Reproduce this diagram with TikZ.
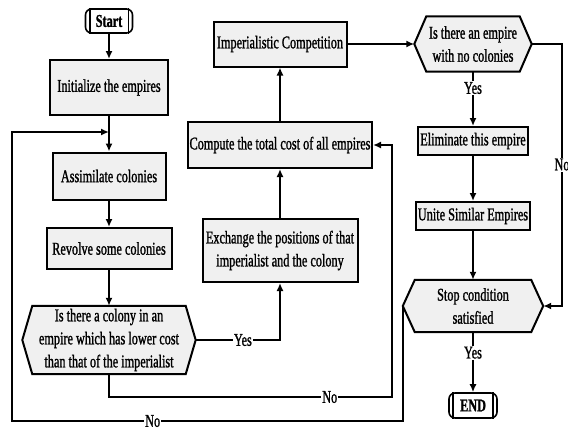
\documentclass[tikz,border=0pt]{standalone}
\usepackage{fontspec}
\setmainfont{Liberation Serif}[FakeStretch=0.68,FakeBold=1.2]
\usetikzlibrary{arrows.meta,calc,backgrounds}
\newcommand\hexpath[2]{\path[hexshape] (#1.west) -- ($(#1.north west)+(#2,0)$) -- ($(#1.north east)+(-#2,0)$) -- (#1.east) -- ($(#1.south east)+(-#2,0)$) -- ($(#1.south west)+(#2,0)$) -- cycle;}
\newcommand\termbars[1]{\draw[line width=1.6pt] ($(#1.north west)+(5,0)$) -- ($(#1.south west)+(5,0)$) ($(#1.north east)+(-5,0)$) -- ($(#1.south east)+(-5,0)$);}
\begin{document}
\begin{tikzpicture}[x=1pt,y=-1pt,
  every node/.style={font=\fontsize{18}{23}\selectfont},
  proc/.style={draw, line width=2pt, fill=gray!12, inner sep=0pt, align=center},
  term/.style={draw, line width=1.6pt, fill=white, rounded corners=6pt, inner sep=0pt, font=\fontsize{18}{23}\selectfont\bfseries},
  dec/.style={inner sep=0pt, align=center},
  hexshape/.style={draw, line width=2pt, fill=gray!12},
  conn/.style={line width=1.8pt, -{Latex[length=8pt,width=7pt]}},
  lbl/.style={fill=white, inner sep=1pt}]
\useasboundingbox (0,0) rectangle (568,429);
% left column
\node[term, minimum width=47pt, minimum height=24pt] (start) at (109,21) {Start};
\node[proc, minimum width=118pt, minimum height=55pt] (init) at (109,87.5) {Initialize the empires};
\node[proc, minimum width=113pt, minimum height=47pt] (assim) at (109,176) {Assimilate colonies};
\node[proc, minimum width=125pt, minimum height=41pt] (rev) at (109,248.5) {Revolve some colonies};
\node[dec, minimum width=173pt, minimum height=68pt] (d1) at (109,340) {Is there a colony in an\\empire which has lower cost\\than that of the imperialist};
% middle column
\node[proc, minimum width=133pt, minimum height=45pt] (imp) at (280,44) {Imperialistic Competition};
\node[proc, minimum width=184pt, minimum height=46pt] (comp) at (280,145) {Compute the total cost of all empires};
\node[proc, minimum width=155pt, minimum height=63pt] (exch) at (280,250.5) {Exchange the positions of that\\imperialist and the colony};
% right column
\node[dec, minimum width=117pt, minimum height=55pt] (d2) at (473,44) {Is there an empire\\with no colonies};
\node[proc, minimum width=110pt, minimum height=28pt] (elim) at (473,141) {Eliminate this empire};
\node[proc, minimum width=114pt, minimum height=28pt] (unite) at (473,216) {Unite Similar Empires};
\node[dec, minimum width=140pt, minimum height=52pt] (stop) at (473,306) {Stop condition\\satisfied};
\node[term, minimum width=48pt, minimum height=25pt] (end) at (473,405.5) {END};
\begin{pgfonlayer}{background}
\hexpath{d1}{10}
\hexpath{d2}{12}
\hexpath{stop}{12}
\end{pgfonlayer}
\termbars{start}
\termbars{end}
% coordinates
\coordinate (r1) at (562,44);
\coordinate (b1) at (392,397);
\coordinate (b2) at (12,421);
\coordinate (m1) at (109,132);
% connectors
\draw[conn] (start) -- (init);
\draw[conn] (init) -- (assim);
\draw[conn] (assim) -- (rev);
\draw[conn] (rev) -- (d1);
\draw[conn] (d1.east) -| node[lbl,pos=0.28]{Yes} (exch.south);
\draw[conn] (exch) -- (comp);
\draw[conn] (comp) -- (imp);
\draw[conn] (imp) -- (d2);
\draw[conn] (d2) -- node[lbl,pos=0.3]{Yes} (elim);
\draw[conn] (elim) -- (unite);
\draw[conn] (unite) -- (stop);
\draw[conn] (d2.east) -- (r1) |- node[lbl,pos=0.23]{No} (stop.east);
\draw[conn] (stop) -- node[lbl,pos=0.34]{Yes} (end);
\draw[conn] (d1.south) |- node[lbl,pos=0.89]{No} (b1) |- (comp.east);
\draw[conn] (stop.west) |- node[lbl,pos=0.82]{No} (b2) |- (m1);
\end{tikzpicture}
\end{document}
